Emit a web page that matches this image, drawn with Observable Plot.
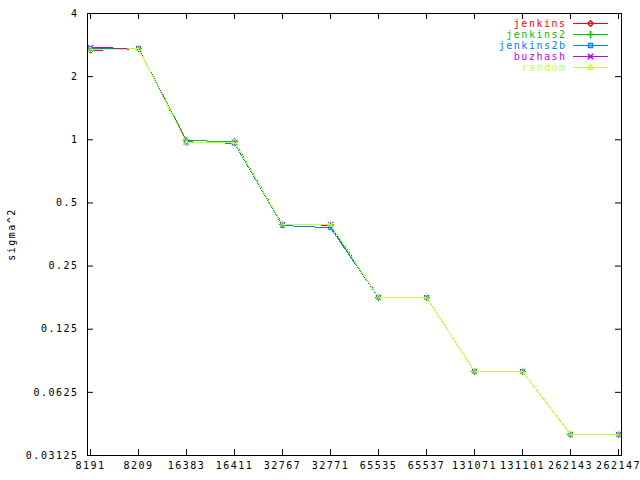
<!DOCTYPE html>
<html>
<head>
<meta charset="utf-8">
<script src="https://cdn.jsdelivr.net/npm/d3@7"></script>
<script src="https://cdn.jsdelivr.net/npm/@observablehq/plot@0.6"></script>
<style>
  html, body { margin: 0; padding: 0; background: #fff; }
  #chart svg { display: block; }
  #chart svg text { letter-spacing: 1.5px; }
</style>
</head>
<body>
<div id="chart"></div>
<script>
const categories = ["8191","8209","16383","16411","32767","32771","65535","65537","131071","131101","262143","262147"];
const seriesNames = ["jenkins","jenkins2","jenkins2b","buzhash","random"];
const seriesColors = ["#ff0000","#00c000","#0080ff","#c000ff","#c0ff40"];
const seriesSymbols = ["diamond2","plus","square2","times","triangle2"];
const yTicks = [0.03125, 0.0625, 0.125, 0.25, 0.5, 1, 2, 4];

const jenkins   = [2.665, 2.72, 0.968, 0.978, 0.394, 0.392, 0.177, 0.177, 0.0786, 0.0786, 0.0394, 0.0394];
const jenkins2  = [2.69, 2.72, 0.992, 0.98, 0.394, 0.393, 0.177, 0.177, 0.0786, 0.0786, 0.0394, 0.0394];
const jenkins2b = [2.73, 2.725, 0.978, 0.962, 0.390, 0.381, 0.177, 0.177, 0.0786, 0.0786, 0.0394, 0.0394];
const buzhash   = [2.755, 2.72, 0.975, 0.975, 0.394, 0.395, 0.177, 0.177, 0.0786, 0.0786, 0.0394, 0.0394];
const random    = [2.69, 2.715, 0.970, 0.975, 0.394, 0.394, 0.177, 0.177, 0.0786, 0.0786, 0.0394, 0.0394];

const seriesValues = [jenkins, jenkins2, jenkins2b, buzhash, random];

const W = 640, H = 480;
const mL = 87, mR = 19, mT = 13, mB = 25;
const fw = W - mL - mR, fh = H - mT - mB;
const tickLen = 6;

const marks = [];
// inward ticks (gnuplot style, mirrored)
marks.push(Plot.tickY(yTicks, {y: d => d, stroke: "#000", insetRight: fw - tickLen}));
marks.push(Plot.tickY(yTicks, {y: d => d, stroke: "#000", insetLeft: fw - tickLen}));
marks.push(Plot.tickX(categories, {x: d => d, stroke: "#000", insetTop: fh - tickLen}));
marks.push(Plot.tickX(categories, {x: d => d, stroke: "#000", insetBottom: fh - tickLen}));

seriesNames.forEach((name, i) => {
  const rows = categories.map((c, j) => ({n: c, v: seriesValues[i][j], series: name}));
  marks.push(Plot.line(rows, {x: "n", y: "v", stroke: "series", strokeWidth: 1, shapeRendering: "crispEdges"}));
  marks.push(Plot.dot(rows, {x: "n", y: "v", stroke: "series", symbol: "series", r: 2.5, fill: "none", strokeWidth: 1}));
  // legend entry
  const dy = 10 + 11 * i;
  marks.push(Plot.text([name], {text: d => d, frameAnchor: "top-right", dx: -(W - mR - 566), dy, textAnchor: "end", lineAnchor: "middle", fill: seriesColors[i]}));
  marks.push(Plot.vector([name], {frameAnchor: "top-right", dx: -(W - mR - 607), dy, length: 34, rotate: -90, anchor: "start", stroke: seriesColors[i], strokeWidth: 1, shapeRendering: "crispEdges",
    shape: {draw(ctx, l) { ctx.moveTo(0, 0); ctx.lineTo(0, -l); }}}));
  marks.push(Plot.dot([name], {frameAnchor: "top-right", dx: -(W - mR - 590), dy, symbol: () => name, stroke: seriesColors[i], r: 2.5, fill: "none"}));
});

marks.push(Plot.frame({stroke: "#000", strokeWidth: 1, shapeRendering: "crispEdges"}));
marks.push(Plot.axisY(yTicks, {tickSize: 0, tickPadding: 9, tickFormat: d => String(d), label: "sigma^2", labelAnchor: "center", labelArrow: "none", labelOffset: 80}));
marks.push(Plot.axisX({tickSize: 0, tickPadding: 6, label: null}));

const chart = Plot.plot({
  width: W,
  height: H,
  marginLeft: mL,
  marginRight: mR,
  marginTop: mT,
  marginBottom: mB,
  style: {fontFamily: "'DejaVu Sans Mono', monospace", fontSize: "10px", color: "#000", background: "#fff"},
  x: {type: "point", domain: categories, padding: 0},
  y: {type: "log", base: 2, domain: [0.03125, 4]},
  color: {domain: seriesNames, range: seriesColors},
  symbol: {domain: seriesNames, range: seriesSymbols},
  marks
});
document.getElementById("chart").appendChild(chart);
</script>
</body>
</html>
